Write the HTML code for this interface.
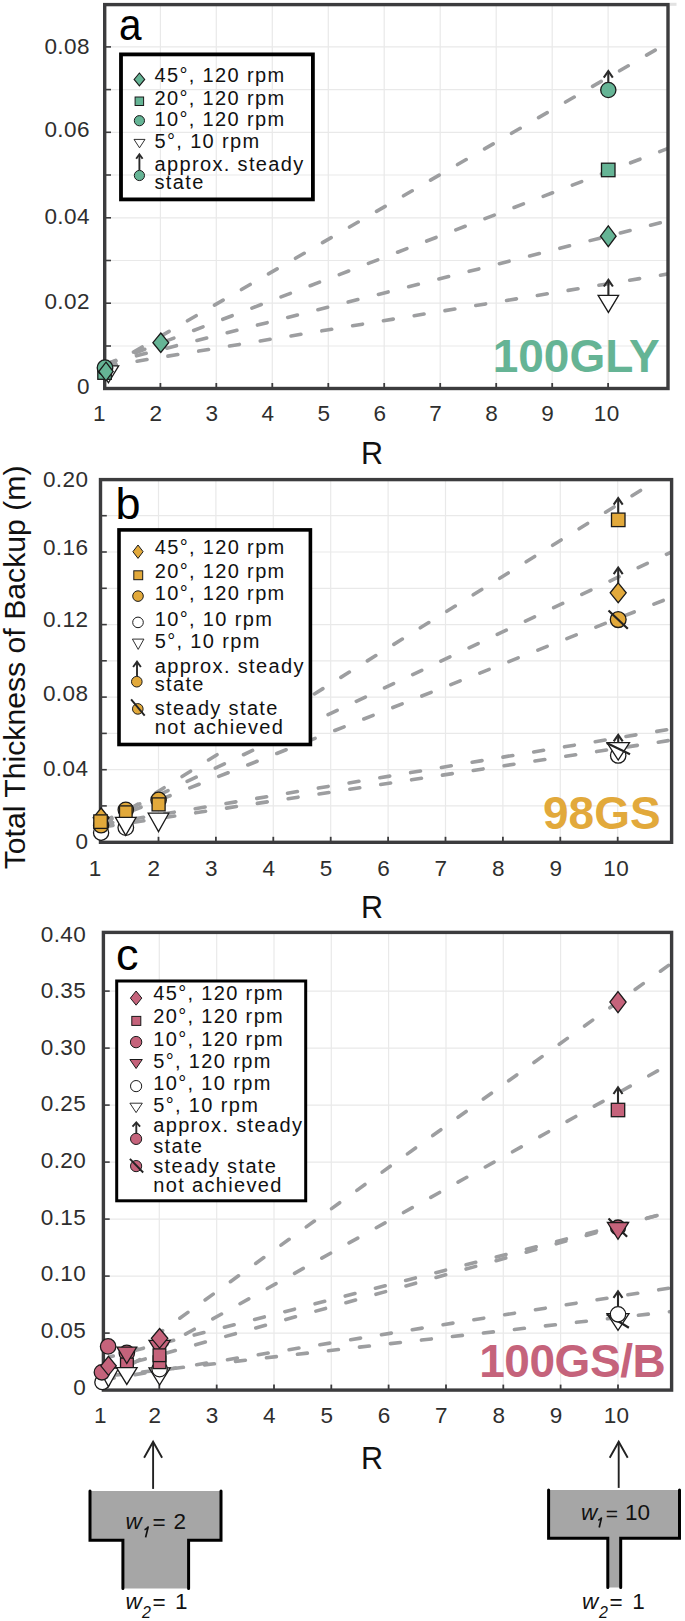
<!DOCTYPE html>
<html><head><meta charset="utf-8"><style>
html,body{margin:0;padding:0;background:#fff;}
body{width:685px;height:1621px;overflow:hidden;}
svg{display:block;}
text{font-family:"Liberation Sans",sans-serif;}
.tk{font-size:22.5px;fill:#2e2e2e;letter-spacing:0.45px;}
.axl{font-size:30.5px;fill:#111;}
.plet{font-size:45px;fill:#000;}
.lg{font-size:20px;fill:#111;letter-spacing:1.35px;}
.big{font-size:46px;font-weight:bold;}
.ytl{font-size:30.2px;fill:#111;}
.wi{font-style:italic;font-size:22.5px;fill:#111;}
.ws1{font-style:italic;font-size:19px;fill:#111;}
.ws2{font-style:italic;font-size:16px;fill:#111;}
.wr{font-size:22.5px;fill:#111;}
.wr2{font-size:21px;fill:#111;}
</style></head><body>
<svg width="685" height="1621" viewBox="0 0 685 1621">
<defs>
<clipPath id="cA"><rect x="104.7" y="4.6" width="563.3" height="383.9"/></clipPath>
<clipPath id="cB"><rect x="100.5" y="479.6" width="571.1" height="362.69999999999993"/></clipPath>
<clipPath id="cC"><rect x="103.4" y="932.4" width="568.2" height="457.69999999999993"/></clipPath>
</defs>
<rect width="685" height="1621" fill="#fff"/>
<rect x="670" y="2.8" width="6.5" height="3" fill="#e2e2e2"/>
<line x1="104.7" y1="346.0" x2="668.0" y2="346.0" stroke="#e9e9e9" stroke-width="1.2"/>
<line x1="104.7" y1="303.2" x2="668.0" y2="303.2" stroke="#e9e9e9" stroke-width="1.2"/>
<line x1="104.7" y1="260.5" x2="668.0" y2="260.5" stroke="#e9e9e9" stroke-width="1.2"/>
<line x1="104.7" y1="217.8" x2="668.0" y2="217.8" stroke="#e9e9e9" stroke-width="1.2"/>
<line x1="104.7" y1="175.0" x2="668.0" y2="175.0" stroke="#e9e9e9" stroke-width="1.2"/>
<line x1="104.7" y1="132.3" x2="668.0" y2="132.3" stroke="#e9e9e9" stroke-width="1.2"/>
<line x1="104.7" y1="89.6" x2="668.0" y2="89.6" stroke="#e9e9e9" stroke-width="1.2"/>
<line x1="104.7" y1="46.9" x2="668.0" y2="46.9" stroke="#e9e9e9" stroke-width="1.2"/>
<line x1="160.4" y1="4.6" x2="160.4" y2="388.5" stroke="#e9e9e9" stroke-width="1.2"/>
<line x1="216.3" y1="4.6" x2="216.3" y2="388.5" stroke="#e9e9e9" stroke-width="1.2"/>
<line x1="272.3" y1="4.6" x2="272.3" y2="388.5" stroke="#e9e9e9" stroke-width="1.2"/>
<line x1="328.3" y1="4.6" x2="328.3" y2="388.5" stroke="#e9e9e9" stroke-width="1.2"/>
<line x1="384.2" y1="4.6" x2="384.2" y2="388.5" stroke="#e9e9e9" stroke-width="1.2"/>
<line x1="440.2" y1="4.6" x2="440.2" y2="388.5" stroke="#e9e9e9" stroke-width="1.2"/>
<line x1="496.2" y1="4.6" x2="496.2" y2="388.5" stroke="#e9e9e9" stroke-width="1.2"/>
<line x1="552.2" y1="4.6" x2="552.2" y2="388.5" stroke="#e9e9e9" stroke-width="1.2"/>
<line x1="608.1" y1="4.6" x2="608.1" y2="388.5" stroke="#e9e9e9" stroke-width="1.2"/>
<line x1="104.7" y1="346.0" x2="111.0" y2="346.0" stroke="#3c3c3e" stroke-width="1.6"/>
<line x1="104.7" y1="303.2" x2="111.0" y2="303.2" stroke="#3c3c3e" stroke-width="1.6"/>
<line x1="104.7" y1="260.5" x2="111.0" y2="260.5" stroke="#3c3c3e" stroke-width="1.6"/>
<line x1="104.7" y1="217.8" x2="111.0" y2="217.8" stroke="#3c3c3e" stroke-width="1.6"/>
<line x1="104.7" y1="175.0" x2="111.0" y2="175.0" stroke="#3c3c3e" stroke-width="1.6"/>
<line x1="104.7" y1="132.3" x2="111.0" y2="132.3" stroke="#3c3c3e" stroke-width="1.6"/>
<line x1="104.7" y1="89.6" x2="111.0" y2="89.6" stroke="#3c3c3e" stroke-width="1.6"/>
<line x1="104.7" y1="46.9" x2="111.0" y2="46.9" stroke="#3c3c3e" stroke-width="1.6"/>
<line x1="160.4" y1="388.5" x2="160.4" y2="383.0" stroke="#3c3c3e" stroke-width="1.8"/>
<line x1="216.3" y1="388.5" x2="216.3" y2="383.0" stroke="#3c3c3e" stroke-width="1.8"/>
<line x1="272.3" y1="388.5" x2="272.3" y2="383.0" stroke="#3c3c3e" stroke-width="1.8"/>
<line x1="328.3" y1="388.5" x2="328.3" y2="383.0" stroke="#3c3c3e" stroke-width="1.8"/>
<line x1="384.2" y1="388.5" x2="384.2" y2="383.0" stroke="#3c3c3e" stroke-width="1.8"/>
<line x1="440.2" y1="388.5" x2="440.2" y2="383.0" stroke="#3c3c3e" stroke-width="1.8"/>
<line x1="496.2" y1="388.5" x2="496.2" y2="383.0" stroke="#3c3c3e" stroke-width="1.8"/>
<line x1="552.2" y1="388.5" x2="552.2" y2="383.0" stroke="#3c3c3e" stroke-width="1.8"/>
<line x1="608.1" y1="388.5" x2="608.1" y2="383.0" stroke="#3c3c3e" stroke-width="1.8"/>
<text x="90.0" y="393.9" text-anchor="end" class="tk">0</text>
<text x="90.0" y="308.8" text-anchor="end" class="tk">0.02</text>
<text x="90.0" y="224.4" text-anchor="end" class="tk">0.04</text>
<text x="90.0" y="137.4" text-anchor="end" class="tk">0.06</text>
<text x="90.0" y="53.8" text-anchor="end" class="tk">0.08</text>
<text x="99.5" y="420.8" text-anchor="middle" class="tk">1</text>
<text x="156.0" y="420.8" text-anchor="middle" class="tk">2</text>
<text x="211.9" y="420.8" text-anchor="middle" class="tk">3</text>
<text x="267.9" y="420.8" text-anchor="middle" class="tk">4</text>
<text x="323.9" y="420.8" text-anchor="middle" class="tk">5</text>
<text x="379.9" y="420.8" text-anchor="middle" class="tk">6</text>
<text x="435.8" y="420.8" text-anchor="middle" class="tk">7</text>
<text x="491.8" y="420.8" text-anchor="middle" class="tk">8</text>
<text x="547.8" y="420.8" text-anchor="middle" class="tk">9</text>
<text x="606.7" y="420.8" text-anchor="middle" class="tk">10</text>
<text x="372.0" y="463.8" text-anchor="middle" class="axl">R</text>
<text transform="translate(118.9,39.8) scale(0.9,1)" class="plet">a</text>
<line x1="111.0" y1="365.0" x2="678.0" y2="37.0" stroke="#9d9ea0" stroke-width="3.6" stroke-linecap="round" stroke-dasharray="10.0 21.2" stroke-dashoffset="5.26" clip-path="url(#cA)"/>
<line x1="111.0" y1="362.2" x2="678.0" y2="144.6" stroke="#9d9ea0" stroke-width="3.6" stroke-linecap="round" stroke-dasharray="10.0 21.2" stroke-dashoffset="5.05" clip-path="url(#cA)"/>
<line x1="111.0" y1="362.3" x2="678.0" y2="218.3" stroke="#9d9ea0" stroke-width="3.6" stroke-linecap="round" stroke-dasharray="10.0 21.2" stroke-dashoffset="4.90" clip-path="url(#cA)"/>
<line x1="111.0" y1="365.5" x2="678.0" y2="272.3" stroke="#9d9ea0" stroke-width="3.6" stroke-linecap="round" stroke-dasharray="10.0 21.2" stroke-dashoffset="4.73" clip-path="url(#cA)"/>
<rect x="104.7" y="4.6" width="563.3" height="383.9" fill="none" stroke="#3c3c3e" stroke-width="3.4"/>
<rect x="121" y="54.4" width="191.9" height="145" fill="none" stroke="#000" stroke-width="3.8"/>
<polygon points="139.4,73.0 144.7,79.4 139.4,85.8 134.1,79.4" fill="#65b495" stroke="#1a1a1a" stroke-width="1.1"/>
<text x="154.5" y="81.5" class="lg">45°, 120 rpm</text>
<rect x="135.1" y="97.0" width="8.5" height="8.5" fill="#65b495" stroke="#1a1a1a" stroke-width="1.0"/>
<text x="154.5" y="104.6" class="lg">20°, 120 rpm</text>
<circle cx="139.4" cy="120.7" r="5.1" fill="#65b495" stroke="#1a1a1a" stroke-width="1.0"/>
<text x="154.5" y="125.5" class="lg">10°, 120 rpm</text>
<polygon points="134.0,139.4 145.0,139.4 139.5,147.8" fill="#fff" stroke="#1a1a1a" stroke-width="0.9"/>
<text x="154.5" y="147.8" class="lg">5°, 10 rpm</text>
<line x1="139.4" y1="170.0" x2="139.4" y2="155.3" stroke="#2a2a2a" stroke-width="1.9"/>
<polyline points="136.2,158.7 139.4,154.3 142.6,158.7" fill="none" stroke="#2a2a2a" stroke-width="1.9" stroke-linejoin="miter" stroke-miterlimit="10"/>
<circle cx="139.4" cy="175.5" r="5.1" fill="#65b495" stroke="#1a1a1a" stroke-width="1.0"/>
<text x="154.5" y="170.9" class="lg">approx. steady</text>
<text x="154.5" y="189.0" class="lg">state</text>
<polygon points="98.2,365.8 118.7,365.8 108.4,382.8" fill="#fff" stroke="#1a1a1a" stroke-width="1.3"/>
<rect x="97.8" y="365.8" width="13.5" height="13.5" fill="#65b495" stroke="#1a1a1a" stroke-width="1.3"/>
<circle cx="105.0" cy="367.7" r="7.8" fill="#65b495" stroke="#1a1a1a" stroke-width="1.3"/>
<polygon points="106.0,362.2 113.2,371.5 106.0,380.8 98.8,371.5" fill="#65b495" stroke="#1a1a1a" stroke-width="1.3"/>
<polygon points="160.8,333.0 168.7,342.7 160.8,352.4 152.9,342.7" fill="#65b495" stroke="#1a1a1a" stroke-width="1.3"/>
<circle cx="608.3" cy="90.0" r="7.6" fill="#65b495" stroke="#1a1a1a" stroke-width="1.3"/>
<line x1="608.3" y1="82.4" x2="608.3" y2="72.0" stroke="#2a2a2a" stroke-width="2.1"/>
<polyline points="603.8,77.6 608.3,71.0 612.8,77.6" fill="none" stroke="#2a2a2a" stroke-width="2.1" stroke-linejoin="miter" stroke-miterlimit="10"/>
<rect x="601.5" y="163.2" width="13.5" height="13.5" fill="#65b495" stroke="#1a1a1a" stroke-width="1.3"/>
<polygon points="608.3,225.8 616.1,236.2 608.3,246.6 600.5,236.2" fill="#65b495" stroke="#1a1a1a" stroke-width="1.3"/>
<polygon points="598.1,295.3 618.6,295.3 608.4,312.4" fill="#fff" stroke="#1a1a1a" stroke-width="1.3"/>
<line x1="608.4" y1="295.3" x2="608.4" y2="280.9" stroke="#2a2a2a" stroke-width="2.1"/>
<polyline points="603.9,286.5 608.4,279.9 612.9,286.5" fill="none" stroke="#2a2a2a" stroke-width="2.1" stroke-linejoin="miter" stroke-miterlimit="10"/>
<text x="492.7" y="372.3" class="big" fill="#65b495">100GLY</text>
<line x1="100.5" y1="805.9" x2="671.6" y2="805.9" stroke="#e9e9e9" stroke-width="1.2"/>
<line x1="100.5" y1="769.7" x2="671.6" y2="769.7" stroke="#e9e9e9" stroke-width="1.2"/>
<line x1="100.5" y1="733.4" x2="671.6" y2="733.4" stroke="#e9e9e9" stroke-width="1.2"/>
<line x1="100.5" y1="697.1" x2="671.6" y2="697.1" stroke="#e9e9e9" stroke-width="1.2"/>
<line x1="100.5" y1="660.8" x2="671.6" y2="660.8" stroke="#e9e9e9" stroke-width="1.2"/>
<line x1="100.5" y1="624.6" x2="671.6" y2="624.6" stroke="#e9e9e9" stroke-width="1.2"/>
<line x1="100.5" y1="588.3" x2="671.6" y2="588.3" stroke="#e9e9e9" stroke-width="1.2"/>
<line x1="100.5" y1="552.0" x2="671.6" y2="552.0" stroke="#e9e9e9" stroke-width="1.2"/>
<line x1="100.5" y1="515.7" x2="671.6" y2="515.7" stroke="#e9e9e9" stroke-width="1.2"/>
<line x1="158.5" y1="479.6" x2="158.5" y2="842.3" stroke="#e9e9e9" stroke-width="1.2"/>
<line x1="215.9" y1="479.6" x2="215.9" y2="842.3" stroke="#e9e9e9" stroke-width="1.2"/>
<line x1="273.3" y1="479.6" x2="273.3" y2="842.3" stroke="#e9e9e9" stroke-width="1.2"/>
<line x1="330.7" y1="479.6" x2="330.7" y2="842.3" stroke="#e9e9e9" stroke-width="1.2"/>
<line x1="388.1" y1="479.6" x2="388.1" y2="842.3" stroke="#e9e9e9" stroke-width="1.2"/>
<line x1="445.5" y1="479.6" x2="445.5" y2="842.3" stroke="#e9e9e9" stroke-width="1.2"/>
<line x1="502.9" y1="479.6" x2="502.9" y2="842.3" stroke="#e9e9e9" stroke-width="1.2"/>
<line x1="560.3" y1="479.6" x2="560.3" y2="842.3" stroke="#e9e9e9" stroke-width="1.2"/>
<line x1="617.7" y1="479.6" x2="617.7" y2="842.3" stroke="#e9e9e9" stroke-width="1.2"/>
<line x1="100.5" y1="805.9" x2="106.8" y2="805.9" stroke="#3c3c3e" stroke-width="1.6"/>
<line x1="100.5" y1="769.7" x2="106.8" y2="769.7" stroke="#3c3c3e" stroke-width="1.6"/>
<line x1="100.5" y1="733.4" x2="106.8" y2="733.4" stroke="#3c3c3e" stroke-width="1.6"/>
<line x1="100.5" y1="697.1" x2="106.8" y2="697.1" stroke="#3c3c3e" stroke-width="1.6"/>
<line x1="100.5" y1="660.8" x2="106.8" y2="660.8" stroke="#3c3c3e" stroke-width="1.6"/>
<line x1="100.5" y1="624.6" x2="106.8" y2="624.6" stroke="#3c3c3e" stroke-width="1.6"/>
<line x1="100.5" y1="588.3" x2="106.8" y2="588.3" stroke="#3c3c3e" stroke-width="1.6"/>
<line x1="100.5" y1="552.0" x2="106.8" y2="552.0" stroke="#3c3c3e" stroke-width="1.6"/>
<line x1="100.5" y1="515.7" x2="106.8" y2="515.7" stroke="#3c3c3e" stroke-width="1.6"/>
<line x1="158.5" y1="842.3" x2="158.5" y2="836.8" stroke="#3c3c3e" stroke-width="1.8"/>
<line x1="215.9" y1="842.3" x2="215.9" y2="836.8" stroke="#3c3c3e" stroke-width="1.8"/>
<line x1="273.3" y1="842.3" x2="273.3" y2="836.8" stroke="#3c3c3e" stroke-width="1.8"/>
<line x1="330.7" y1="842.3" x2="330.7" y2="836.8" stroke="#3c3c3e" stroke-width="1.8"/>
<line x1="388.1" y1="842.3" x2="388.1" y2="836.8" stroke="#3c3c3e" stroke-width="1.8"/>
<line x1="445.5" y1="842.3" x2="445.5" y2="836.8" stroke="#3c3c3e" stroke-width="1.8"/>
<line x1="502.9" y1="842.3" x2="502.9" y2="836.8" stroke="#3c3c3e" stroke-width="1.8"/>
<line x1="560.3" y1="842.3" x2="560.3" y2="836.8" stroke="#3c3c3e" stroke-width="1.8"/>
<line x1="617.7" y1="842.3" x2="617.7" y2="836.8" stroke="#3c3c3e" stroke-width="1.8"/>
<text x="88.5" y="849.0" text-anchor="end" class="tk">0</text>
<text x="88.5" y="775.5" text-anchor="end" class="tk">0.04</text>
<text x="88.5" y="700.9" text-anchor="end" class="tk">0.08</text>
<text x="88.5" y="627.4" text-anchor="end" class="tk">0.12</text>
<text x="88.5" y="554.7" text-anchor="end" class="tk">0.16</text>
<text x="88.5" y="487.2" text-anchor="end" class="tk">0.20</text>
<text x="95.3" y="876.2" text-anchor="middle" class="tk">1</text>
<text x="154.1" y="876.2" text-anchor="middle" class="tk">2</text>
<text x="211.5" y="876.2" text-anchor="middle" class="tk">3</text>
<text x="268.9" y="876.2" text-anchor="middle" class="tk">4</text>
<text x="326.3" y="876.2" text-anchor="middle" class="tk">5</text>
<text x="383.7" y="876.2" text-anchor="middle" class="tk">6</text>
<text x="441.1" y="876.2" text-anchor="middle" class="tk">7</text>
<text x="498.5" y="876.2" text-anchor="middle" class="tk">8</text>
<text x="555.9" y="876.2" text-anchor="middle" class="tk">9</text>
<text x="616.3" y="876.2" text-anchor="middle" class="tk">10</text>
<text x="372.0" y="917.9" text-anchor="middle" class="axl">R</text>
<text x="115.5" y="518.6" class="plet">b</text>
<line x1="108.0" y1="822.7" x2="681.6" y2="464.8" stroke="#9d9ea0" stroke-width="3.6" stroke-linecap="round" stroke-dasharray="10.0 21.2" stroke-dashoffset="6.30" clip-path="url(#cB)"/>
<line x1="108.0" y1="819.0" x2="681.6" y2="547.1" stroke="#9d9ea0" stroke-width="3.6" stroke-linecap="round" stroke-dasharray="10.0 21.2" stroke-dashoffset="6.00" clip-path="url(#cB)"/>
<line x1="108.0" y1="820.3" x2="681.6" y2="593.2" stroke="#9d9ea0" stroke-width="3.6" stroke-linecap="round" stroke-dasharray="10.0 21.2" stroke-dashoffset="5.65" clip-path="url(#cB)"/>
<line x1="108.0" y1="823.3" x2="681.6" y2="727.2" stroke="#9d9ea0" stroke-width="3.6" stroke-linecap="round" stroke-dasharray="10.0 21.2" stroke-dashoffset="5.16" clip-path="url(#cB)"/>
<line x1="108.0" y1="826.2" x2="681.6" y2="738.6" stroke="#9d9ea0" stroke-width="3.6" stroke-linecap="round" stroke-dasharray="10.0 21.2" stroke-dashoffset="4.91" clip-path="url(#cB)"/>
<rect x="100.5" y="479.6" width="571.1" height="362.7" fill="none" stroke="#3c3c3e" stroke-width="3.4"/>
<rect x="119" y="529.9" width="191.4" height="214.6" fill="#fff" stroke="#000" stroke-width="3.6"/>
<polygon points="138.0,545.0 143.1,551.7 138.0,558.4 132.9,551.7" fill="#e2a93b" stroke="#1a1a1a" stroke-width="1.0"/>
<text x="154.7" y="553.7" class="lg">45°, 120 rpm</text>
<rect x="133.8" y="570.8" width="8.9" height="8.9" fill="#e2a93b" stroke="#1a1a1a" stroke-width="1.0"/>
<text x="154.7" y="578.2" class="lg">20°, 120 rpm</text>
<circle cx="138.0" cy="596.1" r="5.3" fill="#e2a93b" stroke="#1a1a1a" stroke-width="1.0"/>
<text x="154.7" y="600.4" class="lg">10°, 120 rpm</text>
<circle cx="138.0" cy="622.4" r="5.3" fill="#fff" stroke="#1a1a1a" stroke-width="1.0"/>
<text x="154.7" y="626.1" class="lg">10°, 10 rpm</text>
<polygon points="132.4,639.1 143.9,639.1 138.2,649.4" fill="#fff" stroke="#1a1a1a" stroke-width="0.9"/>
<text x="154.7" y="647.6" class="lg">5°, 10 rpm</text>
<line x1="137.0" y1="676.0" x2="137.0" y2="662.6" stroke="#2a2a2a" stroke-width="1.9"/>
<polyline points="133.1,667.0 137.0,661.6 140.9,667.0" fill="none" stroke="#2a2a2a" stroke-width="1.9" stroke-linejoin="miter" stroke-miterlimit="10"/>
<circle cx="136.8" cy="681.7" r="5.3" fill="#e2a93b" stroke="#1a1a1a" stroke-width="1.0"/>
<text x="154.7" y="672.5" class="lg">approx. steady</text>
<text x="154.7" y="691.0" class="lg">state</text>
<circle cx="137.8" cy="708.9" r="5.3" fill="#e2a93b" stroke="#1a1a1a" stroke-width="1.0"/>
<line x1="131.1" y1="699.4" x2="144.7" y2="715.6" stroke="#222" stroke-width="1.9"/>
<text x="154.7" y="715.3" class="lg">steady state</text>
<text x="154.7" y="733.6" class="lg">not achieved</text>
<circle cx="101.1" cy="832.7" r="7.6" fill="#fff" stroke="#1a1a1a" stroke-width="1.3"/>
<circle cx="101.1" cy="825.3" r="7.6" fill="#e2a93b" stroke="#1a1a1a" stroke-width="1.3"/>
<polygon points="101.1,808.0 109.0,817.8 101.1,827.6 93.2,817.8" fill="#e2a93b" stroke="#1a1a1a" stroke-width="1.3"/>
<rect x="93.8" y="814.9" width="13.5" height="13.5" fill="#e2a93b" stroke="#1a1a1a" stroke-width="1.3"/>
<circle cx="125.8" cy="827.6" r="7.8" fill="#fff" stroke="#1a1a1a" stroke-width="1.3"/>
<circle cx="125.8" cy="809.8" r="7.7" fill="#e2a93b" stroke="#1a1a1a" stroke-width="1.3"/>
<rect x="119.5" y="805.9" width="12.6" height="12.6" fill="#e2a93b" stroke="#1a1a1a" stroke-width="1.3"/>
<polygon points="115.4,817.4 136.1,817.4 125.7,835.4" fill="#fff" stroke="#1a1a1a" stroke-width="1.3"/>
<circle cx="158.6" cy="799.9" r="7.7" fill="#e2a93b" stroke="#1a1a1a" stroke-width="1.3"/>
<rect x="152.1" y="797.9" width="13.0" height="13.0" fill="#e2a93b" stroke="#1a1a1a" stroke-width="1.3"/>
<polygon points="148.2,813.2 168.8,813.2 158.5,831.6" fill="#fff" stroke="#1a1a1a" stroke-width="1.3"/>
<rect x="611.5" y="513.1" width="13.5" height="13.5" fill="#e2a93b" stroke="#1a1a1a" stroke-width="1.3"/>
<line x1="618.2" y1="513.0" x2="618.2" y2="499.1" stroke="#2a2a2a" stroke-width="2.1"/>
<polyline points="613.7,504.7 618.2,498.1 622.7,504.7" fill="none" stroke="#2a2a2a" stroke-width="2.1" stroke-linejoin="miter" stroke-miterlimit="10"/>
<polygon points="618.2,582.9 626.2,592.8 618.2,602.7 610.2,592.8" fill="#e2a93b" stroke="#1a1a1a" stroke-width="1.3"/>
<line x1="618.2" y1="583.0" x2="618.2" y2="568.5" stroke="#2a2a2a" stroke-width="2.1"/>
<polyline points="613.7,574.1 618.2,567.5 622.7,574.1" fill="none" stroke="#2a2a2a" stroke-width="2.1" stroke-linejoin="miter" stroke-miterlimit="10"/>
<circle cx="618.2" cy="619.6" r="7.9" fill="#e2a93b" stroke="#1a1a1a" stroke-width="1.3"/>
<line x1="608.5" y1="610.5" x2="627.8" y2="628.8" stroke="#222" stroke-width="2.2"/>
<circle cx="618.2" cy="755.5" r="7.7" fill="#fff" stroke="#1a1a1a" stroke-width="1.3"/>
<polygon points="607.0,742.6 629.5,742.6 618.2,760.0" fill="#fff" stroke="#1a1a1a" stroke-width="1.3"/>
<line x1="618.2" y1="742.6" x2="618.2" y2="735.8" stroke="#2a2a2a" stroke-width="2.1"/>
<polyline points="613.7,741.4 618.2,734.8 622.7,741.4" fill="none" stroke="#2a2a2a" stroke-width="2.1" stroke-linejoin="miter" stroke-miterlimit="10"/>
<line x1="606.7" y1="743.0" x2="630.0" y2="754.3" stroke="#222" stroke-width="2.2"/>
<text x="543.0" y="828.8" class="big" fill="#e2a93b">98GS</text>
<line x1="103.4" y1="1333.1" x2="671.6" y2="1333.1" stroke="#e9e9e9" stroke-width="1.2"/>
<line x1="103.4" y1="1276.1" x2="671.6" y2="1276.1" stroke="#e9e9e9" stroke-width="1.2"/>
<line x1="103.4" y1="1219.1" x2="671.6" y2="1219.1" stroke="#e9e9e9" stroke-width="1.2"/>
<line x1="103.4" y1="1162.1" x2="671.6" y2="1162.1" stroke="#e9e9e9" stroke-width="1.2"/>
<line x1="103.4" y1="1105.1" x2="671.6" y2="1105.1" stroke="#e9e9e9" stroke-width="1.2"/>
<line x1="103.4" y1="1048.1" x2="671.6" y2="1048.1" stroke="#e9e9e9" stroke-width="1.2"/>
<line x1="103.4" y1="991.1" x2="671.6" y2="991.1" stroke="#e9e9e9" stroke-width="1.2"/>
<line x1="159.3" y1="932.4" x2="159.3" y2="1390.1" stroke="#e9e9e9" stroke-width="1.2"/>
<line x1="216.7" y1="932.4" x2="216.7" y2="1390.1" stroke="#e9e9e9" stroke-width="1.2"/>
<line x1="274.0" y1="932.4" x2="274.0" y2="1390.1" stroke="#e9e9e9" stroke-width="1.2"/>
<line x1="331.3" y1="932.4" x2="331.3" y2="1390.1" stroke="#e9e9e9" stroke-width="1.2"/>
<line x1="388.6" y1="932.4" x2="388.6" y2="1390.1" stroke="#e9e9e9" stroke-width="1.2"/>
<line x1="446.0" y1="932.4" x2="446.0" y2="1390.1" stroke="#e9e9e9" stroke-width="1.2"/>
<line x1="503.3" y1="932.4" x2="503.3" y2="1390.1" stroke="#e9e9e9" stroke-width="1.2"/>
<line x1="560.6" y1="932.4" x2="560.6" y2="1390.1" stroke="#e9e9e9" stroke-width="1.2"/>
<line x1="618.0" y1="932.4" x2="618.0" y2="1390.1" stroke="#e9e9e9" stroke-width="1.2"/>
<line x1="103.4" y1="1333.1" x2="109.7" y2="1333.1" stroke="#3c3c3e" stroke-width="1.6"/>
<line x1="103.4" y1="1276.1" x2="109.7" y2="1276.1" stroke="#3c3c3e" stroke-width="1.6"/>
<line x1="103.4" y1="1219.1" x2="109.7" y2="1219.1" stroke="#3c3c3e" stroke-width="1.6"/>
<line x1="103.4" y1="1162.1" x2="109.7" y2="1162.1" stroke="#3c3c3e" stroke-width="1.6"/>
<line x1="103.4" y1="1105.1" x2="109.7" y2="1105.1" stroke="#3c3c3e" stroke-width="1.6"/>
<line x1="103.4" y1="1048.1" x2="109.7" y2="1048.1" stroke="#3c3c3e" stroke-width="1.6"/>
<line x1="103.4" y1="991.1" x2="109.7" y2="991.1" stroke="#3c3c3e" stroke-width="1.6"/>
<line x1="159.3" y1="1390.1" x2="159.3" y2="1384.6" stroke="#3c3c3e" stroke-width="1.8"/>
<line x1="216.7" y1="1390.1" x2="216.7" y2="1384.6" stroke="#3c3c3e" stroke-width="1.8"/>
<line x1="274.0" y1="1390.1" x2="274.0" y2="1384.6" stroke="#3c3c3e" stroke-width="1.8"/>
<line x1="331.3" y1="1390.1" x2="331.3" y2="1384.6" stroke="#3c3c3e" stroke-width="1.8"/>
<line x1="388.6" y1="1390.1" x2="388.6" y2="1384.6" stroke="#3c3c3e" stroke-width="1.8"/>
<line x1="446.0" y1="1390.1" x2="446.0" y2="1384.6" stroke="#3c3c3e" stroke-width="1.8"/>
<line x1="503.3" y1="1390.1" x2="503.3" y2="1384.6" stroke="#3c3c3e" stroke-width="1.8"/>
<line x1="560.6" y1="1390.1" x2="560.6" y2="1384.6" stroke="#3c3c3e" stroke-width="1.8"/>
<line x1="618.0" y1="1390.1" x2="618.0" y2="1384.6" stroke="#3c3c3e" stroke-width="1.8"/>
<text x="86.3" y="1394.8" text-anchor="end" class="tk">0</text>
<text x="86.3" y="1338.2" text-anchor="end" class="tk">0.05</text>
<text x="86.3" y="1281.1" text-anchor="end" class="tk">0.10</text>
<text x="86.3" y="1224.5" text-anchor="end" class="tk">0.15</text>
<text x="86.3" y="1167.8" text-anchor="end" class="tk">0.20</text>
<text x="86.3" y="1111.2" text-anchor="end" class="tk">0.25</text>
<text x="86.3" y="1054.7" text-anchor="end" class="tk">0.30</text>
<text x="86.3" y="998.0" text-anchor="end" class="tk">0.35</text>
<text x="86.3" y="941.5" text-anchor="end" class="tk">0.40</text>
<text x="100.6" y="1422.6" text-anchor="middle" class="tk">1</text>
<text x="154.9" y="1422.6" text-anchor="middle" class="tk">2</text>
<text x="212.3" y="1422.6" text-anchor="middle" class="tk">3</text>
<text x="269.6" y="1422.6" text-anchor="middle" class="tk">4</text>
<text x="326.9" y="1422.6" text-anchor="middle" class="tk">5</text>
<text x="384.2" y="1422.6" text-anchor="middle" class="tk">6</text>
<text x="441.6" y="1422.6" text-anchor="middle" class="tk">7</text>
<text x="498.9" y="1422.6" text-anchor="middle" class="tk">8</text>
<text x="556.2" y="1422.6" text-anchor="middle" class="tk">9</text>
<text x="616.6" y="1422.6" text-anchor="middle" class="tk">10</text>
<text x="372.0" y="1469.3" text-anchor="middle" class="axl">R</text>
<text x="116.0" y="970.4" class="plet">c</text>
<line x1="110.0" y1="1368.6" x2="681.6" y2="955.9" stroke="#9d9ea0" stroke-width="3.6" stroke-linecap="round" stroke-dasharray="10.0 21.2" stroke-dashoffset="7.52" clip-path="url(#cC)"/>
<line x1="110.0" y1="1376.2" x2="681.6" y2="1057.5" stroke="#9d9ea0" stroke-width="3.6" stroke-linecap="round" stroke-dasharray="10.0 21.2" stroke-dashoffset="7.12" clip-path="url(#cC)"/>
<line x1="110.0" y1="1356.8" x2="681.6" y2="1209.2" stroke="#9d9ea0" stroke-width="3.6" stroke-linecap="round" stroke-dasharray="10.0 21.2" stroke-dashoffset="6.65" clip-path="url(#cC)"/>
<line x1="110.0" y1="1368.8" x2="681.6" y2="1208.7" stroke="#9d9ea0" stroke-width="3.6" stroke-linecap="round" stroke-dasharray="10.0 21.2" stroke-dashoffset="4.61" clip-path="url(#cC)"/>
<line x1="110.0" y1="1378.7" x2="681.6" y2="1286.1" stroke="#9d9ea0" stroke-width="3.6" stroke-linecap="round" stroke-dasharray="10.0 21.2" stroke-dashoffset="5.79" clip-path="url(#cC)"/>
<line x1="110.0" y1="1375.7" x2="681.6" y2="1310.3" stroke="#9d9ea0" stroke-width="3.6" stroke-linecap="round" stroke-dasharray="10.0 21.2" stroke-dashoffset="29.73" clip-path="url(#cC)"/>
<rect x="103.4" y="932.4" width="568.2" height="457.7" fill="none" stroke="#3c3c3e" stroke-width="3.4"/>
<rect x="116.7" y="981.0" width="189.0" height="219.8" fill="#fff" stroke="#000" stroke-width="3.0"/>
<polygon points="136.1,991.0 141.8,998.1 136.1,1005.2 130.4,998.1" fill="#c5637b" stroke="#1a1a1a" stroke-width="1.0"/>
<text x="153.2" y="999.7" class="lg">45°, 120 rpm</text>
<rect x="131.8" y="1016.4" width="9.0" height="9.0" fill="#c5637b" stroke="#1a1a1a" stroke-width="1.0"/>
<text x="153.2" y="1023.4" class="lg">20°, 120 rpm</text>
<circle cx="136.1" cy="1042.1" r="5.7" fill="#c5637b" stroke="#1a1a1a" stroke-width="1.0"/>
<text x="153.2" y="1045.7" class="lg">10°, 120 rpm</text>
<polygon points="129.9,1059.5 142.3,1059.5 136.1,1068.5" fill="#c5637b" stroke="#1a1a1a" stroke-width="1.0"/>
<text x="153.2" y="1068.2" class="lg">5°, 120 rpm</text>
<circle cx="136.1" cy="1086.1" r="5.6" fill="#fff" stroke="#1a1a1a" stroke-width="1.0"/>
<text x="153.2" y="1090.2" class="lg">10°, 10 rpm</text>
<polygon points="129.9,1103.2 142.3,1103.2 136.1,1112.6" fill="#fff" stroke="#1a1a1a" stroke-width="0.9"/>
<text x="153.2" y="1111.9" class="lg">5°, 10 rpm</text>
<line x1="136.3" y1="1133.5" x2="136.3" y2="1123.4" stroke="#2a2a2a" stroke-width="1.9"/>
<polyline points="132.5,1126.6 136.3,1122.4 140.1,1126.6" fill="none" stroke="#2a2a2a" stroke-width="1.9" stroke-linejoin="miter" stroke-miterlimit="10"/>
<circle cx="136.1" cy="1138.9" r="5.6" fill="#c5637b" stroke="#1a1a1a" stroke-width="1.0"/>
<text x="153.2" y="1131.8" class="lg">approx. steady</text>
<text x="153.2" y="1152.8" class="lg">state</text>
<circle cx="136.1" cy="1166.1" r="5.6" fill="#c5637b" stroke="#1a1a1a" stroke-width="1.0"/>
<line x1="129.9" y1="1158.9" x2="143.2" y2="1172.5" stroke="#222" stroke-width="1.9"/>
<text x="153.2" y="1173.3" class="lg">steady state</text>
<text x="153.2" y="1192.0" class="lg">not achieved</text>
<circle cx="102.3" cy="1382.2" r="7.5" fill="#fff" stroke="#1a1a1a" stroke-width="1.3"/>
<polygon points="98.2,1368.0 118.8,1368.0 108.5,1386.6" fill="#fff" stroke="#1a1a1a" stroke-width="1.3"/>
<circle cx="101.9" cy="1372.3" r="7.7" fill="#c5637b" stroke="#1a1a1a" stroke-width="1.3"/>
<polygon points="108.5,1356.3 116.2,1365.8 108.5,1375.3 100.8,1365.8" fill="#c5637b" stroke="#1a1a1a" stroke-width="1.3"/>
<circle cx="108.1" cy="1346.4" r="7.7" fill="#c5637b" stroke="#1a1a1a" stroke-width="1.3"/>
<circle cx="126.8" cy="1352.9" r="7.7" fill="#c5637b" stroke="#1a1a1a" stroke-width="1.3"/>
<rect x="120.5" y="1358.1" width="12.8" height="12.8" fill="#c5637b" stroke="#1a1a1a" stroke-width="1.3"/>
<polygon points="117.0,1347.2 136.7,1347.2 126.8,1363.6" fill="#c5637b" stroke="#1a1a1a" stroke-width="1.3"/>
<polygon points="116.5,1367.6 137.1,1367.6 126.8,1384.4" fill="#fff" stroke="#1a1a1a" stroke-width="1.3"/>
<polygon points="149.0,1367.8 170.2,1367.8 159.6,1385.1" fill="#fff" stroke="#1a1a1a" stroke-width="1.3"/>
<circle cx="159.6" cy="1369.2" r="7.7" fill="#fff" stroke="#1a1a1a" stroke-width="1.3"/>
<polygon points="149.0,1340.4 170.2,1340.4 159.6,1357.6" fill="#c5637b" stroke="#1a1a1a" stroke-width="1.3"/>
<rect x="153.2" y="1355.9" width="12.7" height="12.7" fill="#c5637b" stroke="#1a1a1a" stroke-width="1.3"/>
<rect x="153.1" y="1348.9" width="12.7" height="12.7" fill="#c5637b" stroke="#1a1a1a" stroke-width="1.3"/>
<polygon points="159.6,1328.5 167.8,1338.3 159.6,1348.1 151.4,1338.3" fill="#c5637b" stroke="#1a1a1a" stroke-width="1.3"/>
<polygon points="618.0,991.6 626.1,1002.1 618.0,1012.6 609.9,1002.1" fill="#c5637b" stroke="#1a1a1a" stroke-width="1.3"/>
<rect x="611.3" y="1103.3" width="13.4" height="13.4" fill="#c5637b" stroke="#1a1a1a" stroke-width="1.3"/>
<line x1="618.0" y1="1103.6" x2="618.0" y2="1088.4" stroke="#2a2a2a" stroke-width="2.1"/>
<polyline points="613.5,1094.0 618.0,1087.4 622.5,1094.0" fill="none" stroke="#2a2a2a" stroke-width="2.1" stroke-linejoin="miter" stroke-miterlimit="10"/>
<circle cx="618.0" cy="1227.5" r="7.5" fill="#c5637b" stroke="#1a1a1a" stroke-width="1.3"/>
<line x1="608.5" y1="1218.5" x2="627.1" y2="1236.8" stroke="#222" stroke-width="2.2"/>
<polygon points="607.4,1222.5 628.6,1222.5 618.0,1239.3" fill="#c5637b" stroke="#1a1a1a" stroke-width="1.3"/>
<polygon points="607.0,1313.7 629.0,1313.7 618.0,1330.4" fill="#fff" stroke="#1a1a1a" stroke-width="1.3"/>
<line x1="606.7" y1="1314.3" x2="628.9" y2="1327.8" stroke="#222" stroke-width="2.2"/>
<circle cx="618.0" cy="1314.3" r="7.7" fill="#fff" stroke="#1a1a1a" stroke-width="1.3"/>
<line x1="618.0" y1="1306.6" x2="618.0" y2="1292.3" stroke="#2a2a2a" stroke-width="2.1"/>
<polyline points="613.5,1297.9 618.0,1291.3 622.5,1297.9" fill="none" stroke="#2a2a2a" stroke-width="2.1" stroke-linejoin="miter" stroke-miterlimit="10"/>
<text x="479.2" y="1377.4" class="big" fill="#c5637b" style="letter-spacing:-0.45px">100GS/B</text>
<text transform="translate(24.6,869.3) rotate(-90)" class="ytl">Total Thickness of Backup (m)</text>
<path d="M90.0,1491.0 L221.0,1491.0 L221.0,1540.2 L188.6,1540.2 L188.6,1588.6 L122.9,1588.6 L122.9,1540.2 L90.0,1540.2 Z" fill="#a6a6a6"/>
<path d="M90.0,1491.0 L90.0,1540.2 L122.9,1540.2 L122.9,1588.6 M221.0,1491.0 L221.0,1540.2 L188.6,1540.2 L188.6,1588.6" fill="none" stroke="#000" stroke-width="3" stroke-linejoin="miter" stroke-linecap="round"/>
<path d="M548.6,1490.0 L679.5,1490.0 L679.5,1538.3 L620.7,1538.3 L620.7,1587.5 L607.8,1587.5 L607.8,1538.3 L548.6,1538.3 Z" fill="#a6a6a6"/>
<path d="M548.6,1490.0 L548.6,1538.3 L607.8,1538.3 L607.8,1587.5 M679.5,1490.0 L679.5,1538.3 L620.7,1538.3 L620.7,1587.5" fill="none" stroke="#000" stroke-width="3" stroke-linejoin="miter" stroke-linecap="round"/>
<line x1="153.1" y1="1488.9" x2="153.1" y2="1441.8" stroke="#222" stroke-width="1.9"/>
<polyline points="144.1,1457.8 153.1,1441.8 162.1,1457.8" fill="none" stroke="#222" stroke-width="1.9"/>
<line x1="618.7" y1="1487.9" x2="618.7" y2="1441.8" stroke="#222" stroke-width="1.9"/>
<polyline points="609.7,1457.8 618.7,1441.8 627.7,1457.8" fill="none" stroke="#222" stroke-width="1.9"/>
<text x="125.4" y="1529.2" class="wi">w</text>
<path d="M145.6,1537.4 L148.1,1527.1 Q146.8,1529.0 144.5,1529.7" fill="none" stroke="#111" stroke-width="1.7" stroke-linejoin="round"/>
<text x="152.6" y="1530.0" class="wr">=</text>
<text x="173.6" y="1529.3" class="wr">2</text>
<text x="125.4" y="1609.4" class="wi">w</text>
<text x="142.0" y="1618.0" class="ws2">2</text>
<text x="152.6" y="1610.2" class="wr">=</text>
<text x="174.9" y="1609.4" class="wr">1</text>
<text x="581.0" y="1520.3" class="wi">w</text>
<path d="M599.2,1527.5 L601.4,1518.1 Q600.2,1519.7 598.2,1520.3" fill="none" stroke="#111" stroke-width="1.7" stroke-linejoin="round"/>
<text x="605.8" y="1521.0" class="wr2">=</text>
<text x="624.9" y="1520.3" class="wr">10</text>
<text x="582.0" y="1609.4" class="wi">w</text>
<text x="598.9" y="1617.5" class="ws2">2</text>
<text x="609.5" y="1610.2" class="wr">=</text>
<text x="632.2" y="1609.4" class="wr">1</text>
</svg>
</body></html>
